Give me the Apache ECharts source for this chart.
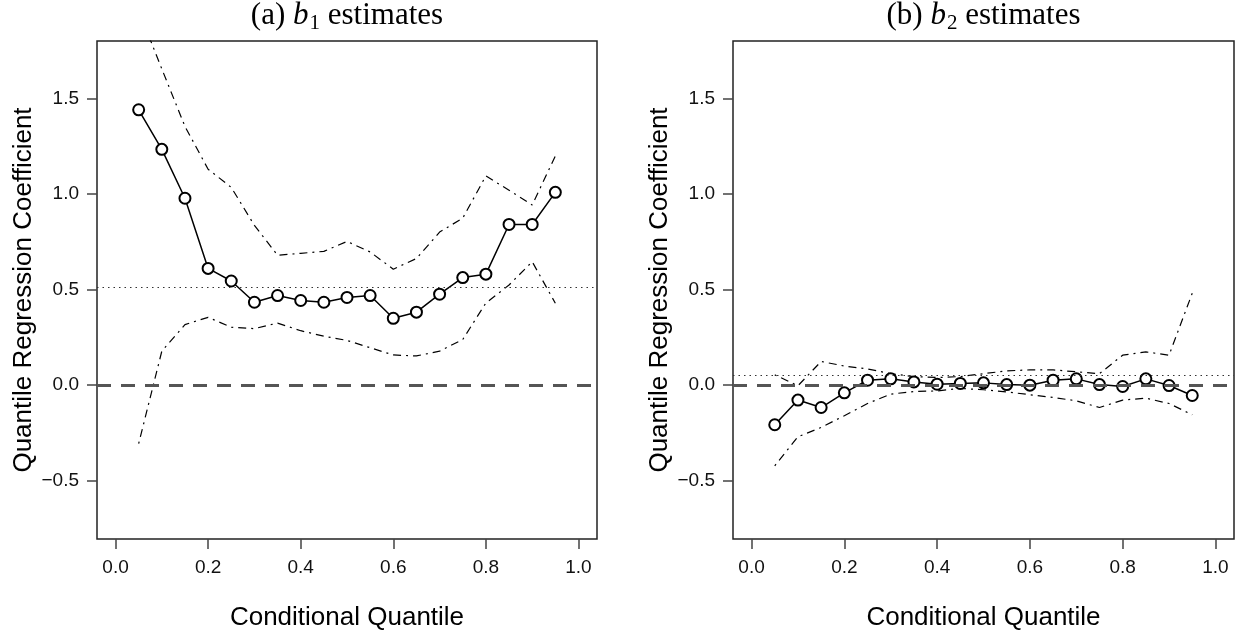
<!DOCTYPE html>
<html>
<head>
<meta charset="utf-8">
<script src="https://cdn.jsdelivr.net/npm/echarts@6/dist/echarts.min.js"></script>
<style>
  html, body { margin: 0; padding: 0; background: #fff; }
  #chart { width: 1240px; height: 636px; }
</style>
</head>
<body>
<div id="chart"></div>
<script>
// quantiles used on the x axis
const quantiles = [0.05, 0.10, 0.15, 0.20, 0.25, 0.30, 0.35, 0.40, 0.45, 0.50,
  0.55, 0.60, 0.65, 0.70, 0.75, 0.80, 0.85, 0.90, 0.95]

// (a) b1 estimates
const b1Est = [1.441, 1.234, 0.978, 0.611, 0.545, 0.434, 0.469, 0.443, 0.434, 0.459,
  0.469, 0.350, 0.382, 0.476, 0.563, 0.581, 0.841, 0.841, 1.009]
const b1Upper = [1.96, 1.655, 1.354, 1.13, 1.035, 0.836, 0.68, 0.69, 0.70, 0.752,
  0.697, 0.607, 0.663, 0.801, 0.874, 1.095, 1.02, 0.943, 1.199]
const b1Lower = [-0.306, 0.178, 0.317, 0.355, 0.303, 0.296, 0.325, 0.285, 0.256, 0.234,
  0.196, 0.158, 0.153, 0.178, 0.239, 0.43, 0.524, 0.646, 0.429]
const b1Ref = 0.514

// (b) b2 estimates
const b2Est = [-0.207, -0.078, -0.117, -0.040, 0.026, 0.033, 0.017, 0.005, 0.009, 0.012,
  0.003, 0.000, 0.026, 0.033, 0.003, -0.007, 0.033, -0.002, -0.054]
const b2Upper = [0.054, -0.003, 0.124, 0.10, 0.085, 0.06, 0.045, 0.04, 0.045, 0.06,
  0.075, 0.08, 0.08, 0.07, 0.06, 0.157, 0.174, 0.157, 0.481]
const b2Lower = [-0.422, -0.270, -0.221, -0.16, -0.096, -0.047, -0.033, -0.030, -0.017, -0.024,
  -0.035, -0.05, -0.064, -0.082, -0.117, -0.078, -0.068, -0.096, -0.155]
const b2Ref = 0.047

const xTicks = [0, 0.2, 0.4, 0.6, 0.8, 1.0]
const yTicks = [-0.5, 0, 0.5, 1.0, 1.5]

const titles = [['(a) ', 'b', '1', ' estimates'], ['(b) ', 'b', '2', ' estimates']]
const xName = 'Conditional Quantile'
const yName = 'Quantile Regression Coefficient'

const sans = 'Liberation Sans, Arial, sans-serif'
const serif = 'Liberation Serif, Times New Roman, serif'

const grids = [
  { left: 97, top: 41, width: 500, height: 501 },
  { left: 733, top: 41, width: 501, height: 501 },
]

const fmt = (v) => v.toFixed(1).replace('-', '\u2212')

const pairs = (ys) => quantiles.map((q, i) => [q, ys[i]])

const makeX = (idx) => ({
  type: 'value',
  gridIndex: idx,
  position: 'bottom',
  min: -0.04,
  max: 1.04,
  name: xName,
  nameLocation: 'middle',
  nameGap: 66,
  nameTextStyle: { fontFamily: sans, fontSize: 26, color: '#000' },
  axisLine: { show: false, onZero: false },
  axisTick: { show: true, inside: false, length: 10, customValues: xTicks, lineStyle: { color: '#444', width: 1.5 } },
  axisLabel: { customValues: xTicks, margin: 19, fontFamily: sans, fontSize: 19, color: '#111', formatter: fmt },
  splitLine: { show: false },
})

const makeY = (idx) => ({
  type: 'value',
  gridIndex: idx,
  position: 'left',
  min: -0.805,
  max: 1.801,
  name: yName,
  nameLocation: 'middle',
  nameGap: 60,
  nameTextStyle: { fontFamily: sans, fontSize: 26, color: '#000' },
  axisLine: { show: false, onZero: false },
  axisTick: { show: true, inside: false, length: 10, customValues: yTicks, lineStyle: { color: '#444', width: 1.5 } },
  axisLabel: { customValues: yTicks, margin: 18, fontFamily: sans, fontSize: 19, color: '#111', formatter: fmt },
  splitLine: { show: false },
})

const bandStyle = { color: '#000', width: 1.2, type: [2, 5, 8, 5] }

const makeSeries = (idx, est, upper, lower, ref) => [
  {
    type: 'line',
    xAxisIndex: idx,
    yAxisIndex: idx,
    data: pairs(upper),
    symbol: 'none',
    lineStyle: bandStyle,
    z: 2,
  },
  {
    type: 'line',
    xAxisIndex: idx,
    yAxisIndex: idx,
    data: pairs(lower),
    symbol: 'none',
    lineStyle: bandStyle,
    z: 2,
  },
  {
    type: 'line',
    xAxisIndex: idx,
    yAxisIndex: idx,
    data: pairs(est),
    symbol: 'emptyCircle',
    symbolSize: 11,
    lineStyle: { color: '#000', width: 1.5 },
    itemStyle: { color: '#000', borderWidth: 1.5 },
    z: 4,
    markLine: {
      silent: true,
      symbol: 'none',
      label: { show: false },
      data: [
        { yAxis: 0, lineStyle: { color: '#555', width: 3, type: [14, 10] } },
        { yAxis: ref, lineStyle: { color: '#333', width: 1.2, type: [1.5, 4] } },
      ],
    },
  },
]

const makeTitle = (idx) => {
  const t = titles[idx]
  return {
    left: grids[idx].left + grids[idx].width / 2,
    top: -2,
    textAlign: 'center',
    padding: 0,
    text: `{n|${t[0]}}{i|${t[1]}}{s|${t[2]}}{n|${t[3]}}`,
    textStyle: {
      fontWeight: 'normal',
      rich: {
        n: { fontFamily: serif, fontSize: 31, fontWeight: 'normal', color: '#000', lineHeight: 36 },
        i: { fontFamily: serif, fontSize: 31, fontWeight: 'normal', fontStyle: 'italic', color: '#000', lineHeight: 36 },
        s: { fontFamily: serif, fontSize: 21, fontWeight: 'normal', color: '#000', lineHeight: 24, padding: [14, 0, 0, 1] },
      },
    },
  }
}

const chart = echarts.init(document.getElementById('chart'), null, { renderer: 'canvas' })

chart.setOption({
  animation: false,
  backgroundColor: '#fff',
  title: [makeTitle(0), makeTitle(1)],
  grid: grids.map((g) => ({ ...g, show: true, borderColor: '#222', borderWidth: 1.5, backgroundColor: 'transparent' })),
  xAxis: [makeX(0), makeX(1)],
  yAxis: [makeY(0), makeY(1)],
  series: [
    ...makeSeries(0, b1Est, b1Upper, b1Lower, b1Ref),
    ...makeSeries(1, b2Est, b2Upper, b2Lower, b2Ref),
  ],
})
</script>
</body>
</html>
